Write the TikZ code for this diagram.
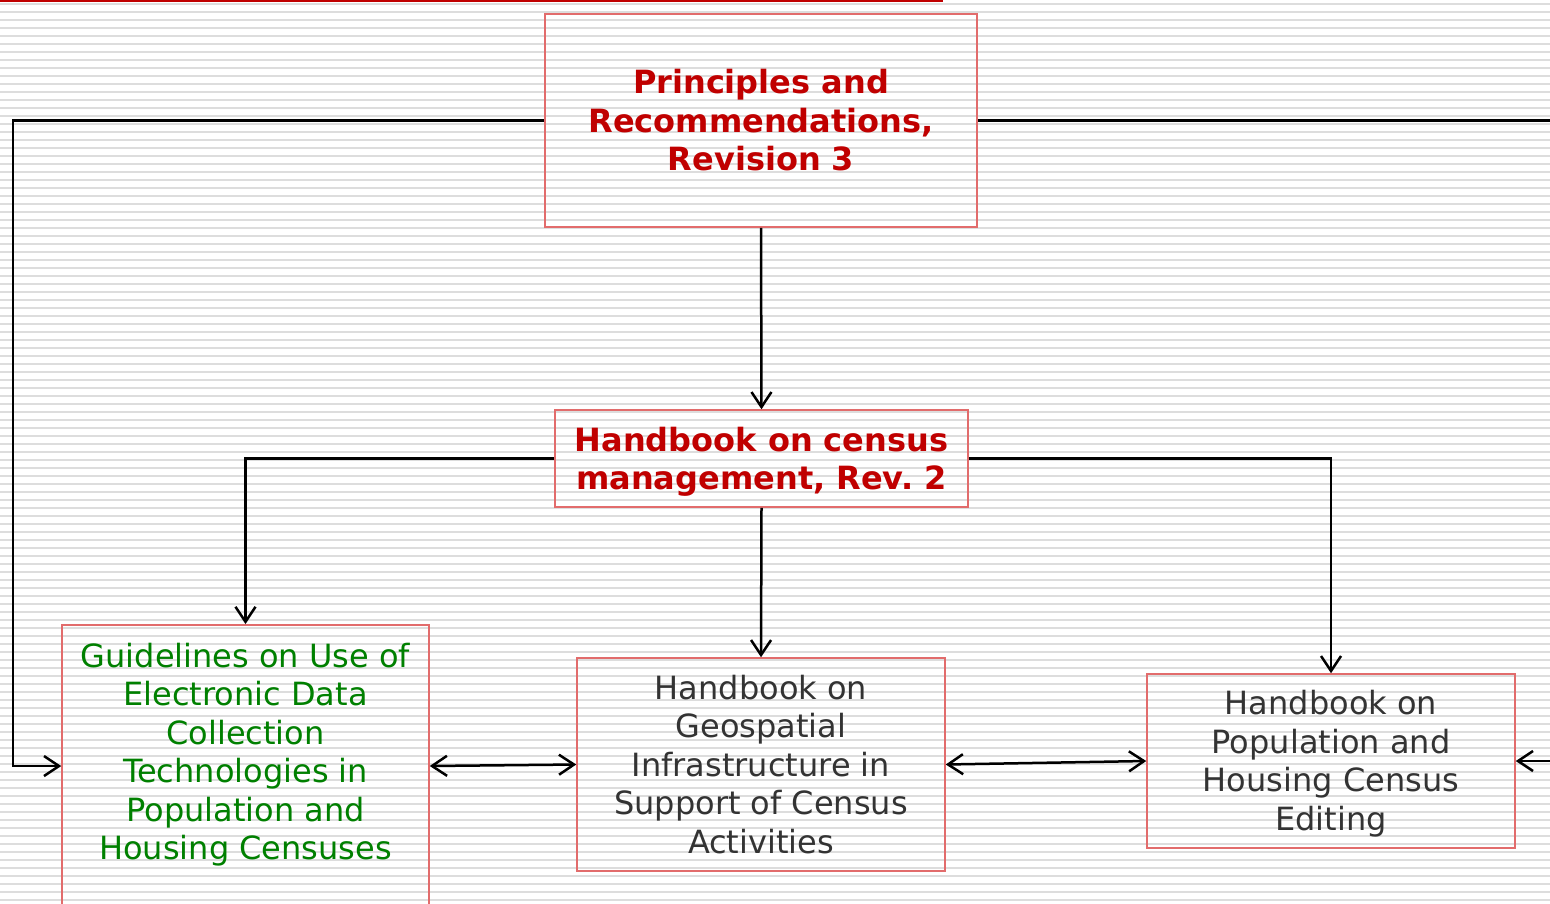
\documentclass[tikz,border=0pt]{standalone}
\usepackage{fontspec}
\setmainfont{DejaVu Sans}
\usetikzlibrary{arrows.meta,positioning}

\definecolor{titlered}{RGB}{192,0,0}
\definecolor{boxred}{RGB}{226,108,108}
\definecolor{guidegreen}{RGB}{0,128,0}
\definecolor{bodygray}{RGB}{51,51,51}
\definecolor{stripegray}{RGB}{221,221,221}

\tikzset{
  docbox/.style={draw=boxred, line width=1.5pt, align=center, inner sep=0pt,
    font=\fontsize{32}{38.5}\selectfont},
  mainbox/.style={docbox, text=titlered, font=\fontsize{32}{38.5}\selectfont\bfseries},
  subbox/.style={docbox, text=bodygray},
  link/.style={line width=2.5pt, -{Straight Barb[length=15pt,width=20pt,line width=2.5pt]}},
  twolink/.style={line width=2.5pt, {Straight Barb[length=15pt,width=20pt,line width=2.5pt]}-{Straight Barb[length=15pt,width=20pt,line width=2.5pt]}}
}

\begin{document}
\begin{tikzpicture}[x=1pt,y=-1pt]
\useasboundingbox (0,0) rectangle (1550,903);
\clip (0,0) rectangle (1550,903);
\fill[white] (0,0) rectangle (1550,903);

% striped background
\foreach \y in {4,12,...,900}
\draw[stripegray, line width=1.7pt] (0,\y) -- (1550,\y);
\fill[titlered] (0,-1) rectangle (943,2);

% boxes
\node[mainbox, minimum width=432pt, minimum height=213pt] (prin) at (761,120.5)
  {Principles and\\Recommendations,\\Revision 3};
\node[mainbox, minimum width=413pt, minimum height=97pt, text depth=0pt] (hb) at (761.5,458.5)
  {Handbook on census\\management, Rev.\ 2};
\node[docbox, text=guidegreen, minimum width=367pt, anchor=north, inner ysep=18pt,
  text depth=120pt] (guide) at (245.5,624)
  {Guidelines on Use of\\Electronic Data\\Collection\\Technologies in\\Population and\\Housing Censuses};
\node[subbox, minimum width=368pt, minimum height=213pt] (geo) at (761,764.5)
  {Handbook on\\Geospatial\\Infrastructure in\\Support of Census\\Activities};
\node[subbox, minimum width=368pt, minimum height=174pt, text depth=1pt] (edit) at (1331,761)
  {Handbook on\\Population and\\Housing Census\\Editing};

% connectors
\coordinate (leftbend) at (13,766);
\coordinate (rightbend) at (1590,761);
\draw[link] (prin.west) -| (leftbend) -- (leftbend -| guide.west);
\draw[link] (prin.east) -| (rightbend) -- (edit.east);
\draw[link] (prin.south) -- (hb.north);
\draw[link] (hb.west) -| (guide.north);
\draw[link] (hb.south) -- (geo.north);
\draw[link] (hb.east) -| (edit.north);
\draw[twolink] (leftbend -| guide.east) -- (geo.west);
\draw[twolink] (geo.east) -- (edit.west);
\end{tikzpicture}
\end{document}
